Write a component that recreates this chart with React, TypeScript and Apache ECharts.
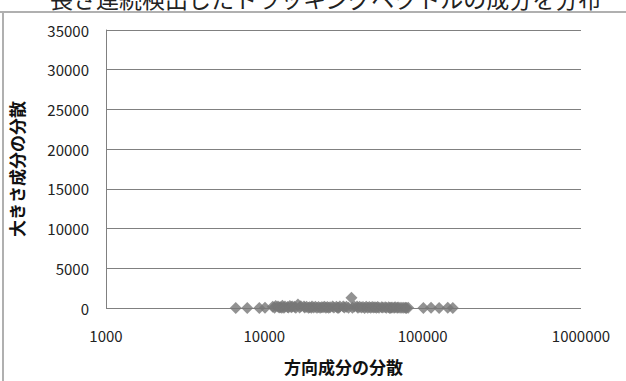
import React, { useEffect, useRef } from "react";
import * as echarts from "echarts";

const titleText = "長さ連続検出したトラッキングベクトルの成分を分布";
const xAxisName = "方向成分の分散";
const yAxisName = "大きさ成分の分散";
const yTicks = [0, 5000, 10000, 15000, 20000, 25000, 30000, 35000];
const xTicks = [1000, 10000, 100000, 1000000];

const directionVar = [
  6600, 7800, 9300, 10100, 11300, 11800, 12200, 12600, 13000, 13500, 14000,
  14500, 15000, 15500, 16300, 17000, 17800, 18500, 19300, 20000, 21000, 22000,
  23000, 24000, 25000, 26000, 27000, 28500, 30000, 31500, 33000, 35500, 37000,
  38500, 40000, 42000, 44000, 46000, 48000, 50000, 52000, 55000, 58000, 61000,
  64000, 67000, 70000, 74000, 78000, 81000, 101000, 113000, 127000, 144000,
  155000, 12900, 14200, 19800, 24500, 29000, 36000, 43000, 53000, 62000,
  11600, 12400, 13300, 14800, 15800, 16700, 18000, 19000, 20500, 21500, 22500,
  23500, 25500, 27500, 29500, 32000, 34000, 39000, 41000, 45000, 47000, 49000,
  51000, 56000, 59000, 63000, 66000, 69000, 72000, 76000, 79000,
];
const magnitudeVar = [
  0, 0, 0, 20, 150, 250, 200, 100, 280, 180, 120, 240, 200, 150, 450, 220, 180,
  150, 100, 200, 150, 130, 100, 160, 120, 100, 180, 150, 200, 180, 150, 1300,
  200, 180, 150, 130, 160, 120, 140, 100, 120, 80, 100, 90, 60, 80, 50, 40, 30,
  20, 10, 20, 10, 20, 10, 20, 60, 30, 40, 20, 30, 10, 20, 10,
  40, 60, 30, 80, 20, 50, 70, 30, 60, 20, 40, 80, 30, 50, 20, 60, 40, 30, 70,
  40, 20, 60, 30, 50, 20, 40, 30, 20, 30, 20, 10,
];

const points = directionVar.map((x, i) => [x, magnitudeVar[i]]);

const FONT = '"Noto Sans CJK JP", "Noto Sans", sans-serif';

export default function App() {
  const ref = useRef<HTMLDivElement>(null);
  useEffect(() => {
    if (!ref.current) return;
    const chart = echarts.init(ref.current, undefined, { renderer: "svg" });
    chart.setOption({
      animation: false,
      backgroundColor: "#ffffff",
      textStyle: { fontFamily: FONT },
      graphic: [
        {
          type: "text",
          left: 50,
          top: -14,
          style: {
            text: titleText,
            fontSize: 23,
            fontFamily: FONT,
            fill: "#222",
          },
        },
        {
          type: "line",
          shape: { x1: 0, y1: 12, x2: 626, y2: 12 },
          style: { stroke: "#b0b0b0", lineWidth: 2 },
        },
        {
          type: "line",
          shape: { x1: 3, y1: 12, x2: 3, y2: 381 },
          style: { stroke: "#b0b0b0", lineWidth: 2 },
        },
      ],
      grid: { left: 97, right: 45, top: 30, bottom: 73 },
      xAxis: {
        type: "log",
        logBase: 10,
        min: xTicks[0],
        max: xTicks[xTicks.length - 1],
        name: xAxisName,
        nameLocation: "middle",
        nameGap: 50,
        nameTextStyle: {
          fontSize: 17,
          fontWeight: "bold",
          color: "#111",
          fontFamily: FONT,
        },
        axisLine: { show: false },
        axisTick: { show: false },
        splitLine: { show: false },
        axisLabel: {
          margin: 20,
          fontSize: 15,
          color: "#222",
          fontFamily: FONT,
          formatter: (v: number) => String(Math.round(v)),
        },
      },
      yAxis: {
        type: "value",
        min: yTicks[0],
        max: yTicks[yTicks.length - 1],
        interval: 5000,
        name: yAxisName,
        nameLocation: "middle",
        nameGap: 81,
        nameTextStyle: {
          fontSize: 17,
          fontWeight: "bold",
          color: "#111",
          fontFamily: FONT,
        },
        axisLine: { show: true, lineStyle: { color: "#808080", width: 1 } },
        axisTick: { show: false },
        splitLine: { show: true, lineStyle: { color: "#808080", width: 1 } },
        axisLabel: {
          margin: 17,
          fontSize: 15,
          color: "#222",
          fontFamily: FONT,
          formatter: (v: number) => String(v),
        },
      },
      series: [
        {
          type: "scatter",
          data: points,
          symbol: "diamond",
          symbolSize: 12,
          itemStyle: { color: "#777777" },
        },
      ],
    });
    return () => chart.dispose();
  }, []);
  return (
    <div
      ref={ref}
      style={{ position: "fixed", left: 0, top: 0, width: 626, height: 381 }}
    />
  );
}
